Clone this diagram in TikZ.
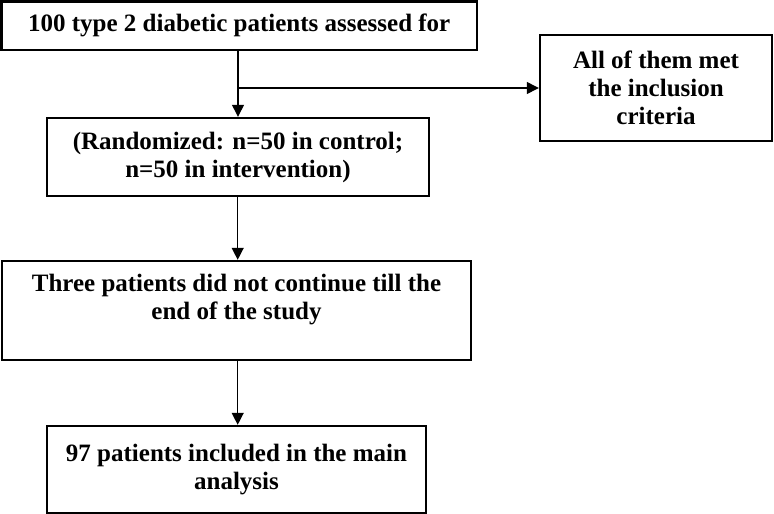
\documentclass[tikz,border=0pt]{standalone}
\usepackage{fontspec}
\setmainfont{Liberation Serif}
\usetikzlibrary{arrows.meta}
\begin{document}
\begin{tikzpicture}[x=1pt,y=-1pt,
  box/.style={draw, line width=2.4pt, rectangle, inner sep=0pt, align=center,
    font=\fontsize{25}{28}\selectfont\bfseries},
  arr/.style={line width=1.3pt, -{Triangle[length=12pt,width=12pt]}}]
\useasboundingbox (0,0) rectangle (774,514);
\node[box, minimum width=475.5pt, minimum height=48.5pt] (b1) at (239.25,25.75) {100 type 2 diabetic patients assessed for};
\node[box, minimum width=382pt, minimum height=78pt] (b2) at (238,157) {(Randomized: n=50 in control;\\ n=50 in intervention)};
\node[box, minimum width=232pt, minimum height=106pt] (rb) at (656,88) {All of them met\\ the inclusion\\ criteria};
\node[box, minimum width=469pt, minimum height=99pt] (b3) at (236.5,310.5) {Three patients did not continue till the\\ end of the study\\ \mbox{}};
\node[box, minimum width=379pt, minimum height=87pt] (b4) at (236.5,469.5) {97 patients included in the main\\ analysis};
\coordinate (ax) at (238,0);
\coordinate (bx) at (237.7,0);
\draw[arr] (b1.south -| ax) -- (b2.north -| ax);
\draw[arr] (ax |- rb.west) -- (rb.west);
\draw[arr] (b2.south -| bx) -- (b3.north -| bx);
\draw[arr] (b3.south -| bx) -- (b4.north -| bx);
\end{tikzpicture}
\end{document}
